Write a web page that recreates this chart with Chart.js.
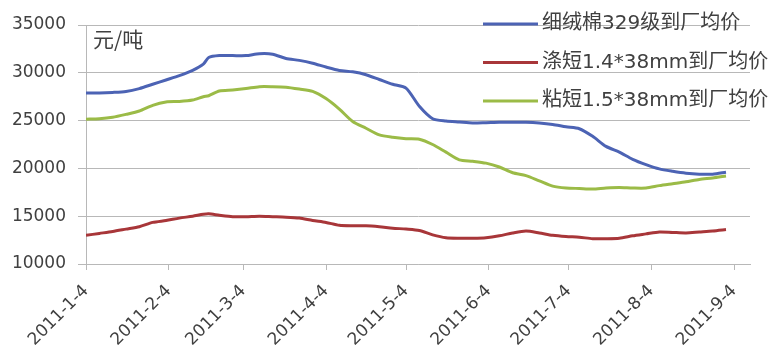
<!DOCTYPE html>
<html>
<head>
<meta charset="utf-8">
<script src="https://cdn.jsdelivr.net/npm/chart.js@4/dist/chart.umd.min.js"></script>
<style>
    html, body { margin: 0; padding: 0; background: #fff; }
    #wrap { width: 772px; height: 351px; }
</style>
</head>
<body>
<div id="wrap"><canvas id="priceChart" width="772" height="351"></canvas></div>
<script>
// --- Data (days counted from 2011-1-4) ---
const days = [0, 5, 10, 15, 20, 25, 30, 35, 40, 44, 46, 50, 55, 60, 65, 70, 75, 80, 85, 90,
    95, 100, 105, 110, 115, 120, 125, 130, 135, 140, 145, 150, 155, 160, 165, 170, 175, 180,
    185, 190, 195, 200, 205, 210, 215, 220, 225, 230, 235, 240];

const cottonPrice = [27900, 27900, 27950, 28050, 28350, 28800, 29250, 29700, 30250, 30900, 31600,
    31800, 31800, 31800, 32000, 31950, 31500, 31300, 31000, 30600, 30250, 30100, 29800, 29300,
    28800, 28400, 26500, 25200, 24950, 24850, 24750, 24780, 24820, 24820, 24820, 24750, 24600,
    24350, 24150, 23350, 22300, 21700, 20950, 20400, 19950, 19700, 19500, 19400, 19400, 19600];

const polyesterPrice = [13000, 13200, 13400, 13650, 13900, 14350, 14550, 14800, 15000, 15200, 15250,
    15100, 14950, 14950, 15000, 14950, 14900, 14800, 14550, 14350, 14050, 14000, 14000, 13900,
    13750, 13650, 13500, 13050, 12750, 12700, 12700, 12750, 12950, 13250, 13450, 13250, 13000,
    12870, 12800, 12650, 12650, 12700, 12950, 13150, 13350, 13300, 13250, 13350, 13450, 13600];

const viscosePrice = [25150, 25200, 25350, 25650, 26000, 26600, 26950, 27000, 27150, 27500, 27600,
    28100, 28200, 28350, 28550, 28550, 28500, 28300, 28050, 27300, 26200, 24900, 24200, 23500,
    23250, 23100, 23050, 22500, 21700, 20900, 20750, 20550, 20150, 19550, 19250, 18700, 18150,
    17950, 17900, 17850, 17950, 18000, 17950, 17950, 18200, 18400, 18600, 18850, 19000, 19200];

const seriesLabels = ['细绒棉329级到厂均价', '涤短1.4*38mm到厂均价', '粘短1.5*38mm到厂均价'];
const tickDays = [0, 31, 59, 90, 120, 151, 181, 212, 243];
const tickLabels = ['2011-1-4', '2011-2-4', '2011-3-4', '2011-4-4', '2011-5-4',
    '2011-6-4', '2011-7-4', '2011-8-4', '2011-9-4'];
const unitLabel = '元/吨';

const TEXT = '#404040';
const GRID = '#b8b8b8';

function toPoints(values) {
    return values.map((v, i) => ({ x: days[i], y: v }));
}

// --- Legend + unit label drawn on top of the plot ---
const overlayPlugin = {
    id: 'overlay',
    afterDraw(chart) {
        const ctx = chart.ctx;
        const area = chart.chartArea;
        ctx.save();
        ctx.fillStyle = TEXT;
        ctx.font = '21px "Noto Sans CJK SC"';
        ctx.textBaseline = 'top';
        ctx.fillText(unitLabel, area.left + 7, area.top + 4);

        ctx.font = '20px "DejaVu Sans", "Noto Sans CJK SC"';
        ctx.textBaseline = 'middle';
        chart.data.datasets.forEach((ds, i) => {
            const y = 24 + i * 38.5;
            ctx.strokeStyle = ds.borderColor;
            ctx.lineWidth = 3;
            ctx.beginPath();
            ctx.moveTo(483, y);
            ctx.lineTo(538, y);
            ctx.stroke();
            ctx.fillText(ds.label, 542, y);
        });
        ctx.restore();
    }
};

const colors = ['#4c63b4', '#a83639', '#9bbb47'];
const seriesData = [cottonPrice, polyesterPrice, viscosePrice];

new Chart(document.getElementById('priceChart').getContext('2d'), {
    type: 'line',
    data: {
        datasets: seriesData.map((vals, i) => ({
            label: seriesLabels[i],
            data: toPoints(vals),
            borderColor: colors[i],
            backgroundColor: colors[i],
            borderWidth: 3,
            pointRadius: 0,
            tension: 0.25,
            fill: false
        }))
    },
    options: {
        responsive: false,
        animation: false,
        layout: { padding: { top: 25, right: 22, left: 0, bottom: 0 } },
        plugins: {
            legend: { display: false },
            tooltip: { enabled: false }
        },
        scales: {
            x: {
                type: 'linear',
                min: 0,
                max: 249,
                afterBuildTicks: scale => {
                    scale.ticks = tickDays.map(d => ({ value: d }));
                },
                afterFit: scale => { scale.height = 87; },
                grid: {
                    drawOnChartArea: false,
                    color: GRID,
                    tickLength: 6
                },
                border: { color: GRID, width: 1 },
                ticks: {
                    autoSkip: false,
                    minRotation: 45,
                    maxRotation: 45,
                    padding: 11,
                    color: TEXT,
                    font: { family: 'DejaVu Sans', size: 17 },
                    callback: (value, index) => tickLabels[index]
                }
            },
            y: {
                min: 10000,
                max: 35000,
                afterFit: scale => { scale.width = 86; },
                grid: { color: GRID, tickLength: 8 },
                border: { color: GRID, width: 1 },
                ticks: {
                    stepSize: 5000,
                    padding: 12,
                    color: TEXT,
                    font: { family: 'DejaVu Sans', size: 17 },
                    callback: value => String(value)
                }
            }
        }
    },
    plugins: [overlayPlugin]
});
</script>
</body>
</html>
